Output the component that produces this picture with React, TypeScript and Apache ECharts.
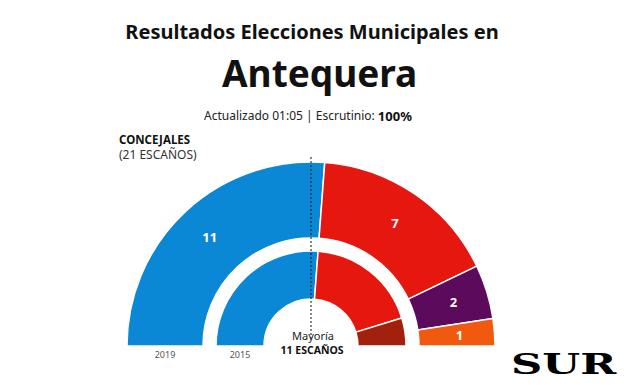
import React, { useEffect, useRef } from "react";
import * as echarts from "echarts";

const parties = ["PP", "PSOE", "Adelante", "Cs"];
const seats2019 = [11, 7, 2, 1];
const colors2019 = ["#0a87d5", "#e5170f", "#5b0a5c", "#f15a0e"];
const parties2015 = ["PP", "PSOE", "IU"];
const seats2015 = [11, 8, 2];
const colors2015 = ["#0a87d5", "#e5170f", "#a1210d"];
const yearLabels = ["2019", "2015"];

const CX = 311;
const CY = 346;
const FONT = "'Noto Sans', 'Open Sans', sans-serif";

export default function App() {
  const ref = useRef<HTMLDivElement>(null);
  useEffect(() => {
    document.body.style.margin = "0";
    const chart = echarts.init(ref.current!, null, { renderer: "svg" });
    const total = seats2019.reduce((a, b) => a + b, 0);
    const half = {
      type: "pie",
      center: [CX, CY],
      startAngle: 180,
      endAngle: 360,
      clockwise: true,
      silent: true,
      labelLine: { show: false },
      itemStyle: { borderColor: "#fff", borderWidth: 1.5 },
    };
    chart.setOption({
      animation: false,
      backgroundColor: "#fff",
      series: [
        {
          ...half,
          radius: [108, 184],
          label: {
            show: true,
            position: "inside",
            color: "#fff",
            fontSize: 13,
            fontWeight: "bold",
            fontFamily: FONT,
            formatter: "{c}",
          },
          data: parties.map((p, i) => ({
            name: p,
            value: seats2019[i],
            itemStyle: { color: colors2019[i] },
          })),
        },
        {
          ...half,
          radius: [47, 95],
          label: { show: false },
          data: parties2015.map((p, i) => ({
            name: p,
            value: seats2015[i],
            itemStyle: { color: colors2015[i] },
          })),
        },
      ],
      graphic: [
        {
          type: "text",
          left: "center",
          top: 21,
          style: {
            text: "Resultados Elecciones Municipales en",
            font: `bold 20px ${FONT}`,
            fill: "#111",
          },
        },
        {
          type: "text",
          left: 222,
          top: 54,
          style: {
            text: "Antequera",
            font: `bold 37px ${FONT}`,
            fill: "#111",
          },
        },
        {
          type: "text",
          left: 204,
          top: 109,
          style: {
            text: "{n|Actualizado 01:05 | Escrutinio: }{b|100%}",
            rich: {
              n: { font: `12px ${FONT}`, fill: "#222" },
              b: { font: `bold 13px ${FONT}`, fill: "#111" },
            },
          },
        },
        {
          type: "text",
          left: 119,
          top: 133,
          style: {
            text: "CONCEJALES",
            font: `bold 11.5px ${FONT}`,
            fill: "#111",
          },
        },
        {
          type: "text",
          left: 119,
          top: 148,
          style: {
            text: `(${total} ESCAÑOS)`,
            font: `12px ${FONT}`,
            fill: "#333",
          },
        },
        {
          type: "line",
          z: 100,
          shape: { x1: CX, y1: 157, x2: CX, y2: 339 },
          style: { stroke: "#111", lineWidth: 1, lineDash: [2, 2] },
        },
        {
          type: "text",
          z: 101,
          x: CX + 2,
          y: 330,
          style: {
            text: "Mayoría",
            font: `11px ${FONT}`,
            fill: "#222",
            align: "center",
          },
        },
        {
          type: "text",
          z: 101,
          x: CX + 1,
          y: 344,
          style: {
            text: "11 ESCAÑOS",
            font: `bold 10.5px ${FONT}`,
            fill: "#111",
            align: "center",
          },
        },
        {
          type: "text",
          x: CX - 146,
          y: 350,
          style: {
            text: yearLabels[0],
            font: `9px ${FONT}`,
            fill: "#555",
            align: "center",
          },
        },
        {
          type: "text",
          x: CX - 71,
          y: 350,
          style: {
            text: yearLabels[1],
            font: `9px ${FONT}`,
            fill: "#555",
            align: "center",
          },
        },
        {
          type: "text",
          x: 511,
          y: 350,
          scaleX: 1.55,
          style: {
            text: "SUR",
            font: `900 28px 'DejaVu Serif', serif`,
            fill: "#000",
          },
        },
      ],
    });
    return () => chart.dispose();
  }, []);
  return <div ref={ref} style={{ width: 624, height: 385 }} />;
}
